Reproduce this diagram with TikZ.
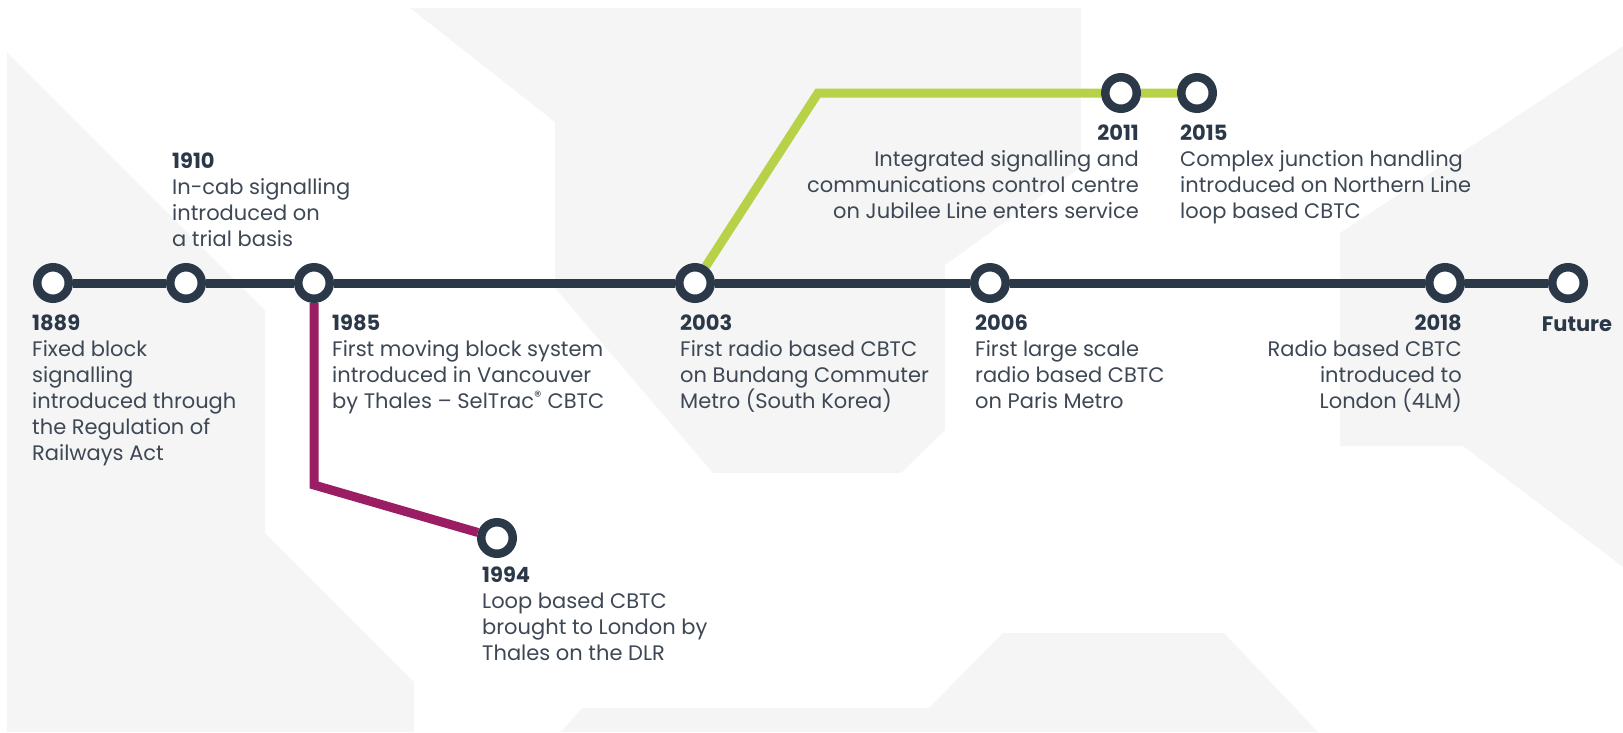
\documentclass[tikz,border=0pt]{standalone}
\usepackage{fontspec}
\setmainfont{Poppins}
\usetikzlibrary{positioning, backgrounds}

\definecolor{navy}{RGB}{43,56,72}
\definecolor{plum}{RGB}{155,30,100}
\definecolor{lime}{RGB}{183,210,72}
\definecolor{paper}{RGB}{245,245,245}
\definecolor{ink}{RGB}{62,72,84}

\tikzset{
    station/.style={circle, draw=navy, line width=8.5pt, fill=white, minimum size=31.5pt, inner sep=0pt},
    track/.style={line width=9pt, draw=navy},
    event/.style={font=\fontsize{21}{26}\selectfont, text=ink, inner sep=0pt, align=left},
}
\newcommand{\yr}[1]{\textcolor{navy}{\bfseries #1}}

\begin{document}
\begin{tikzpicture}[x=1pt, y=-1pt]
    \useasboundingbox (0,0) rectangle (1623,732);

    \node[station] (s1889) at (53,283) {};
    \node[station] (s1910) at (186,283) {};
    \node[station] (s1985) at (314,283) {};
    \node[station] (s1994) at (497,538) {};
    \node[station] (s2003) at (695,283) {};
    \node[station] (s2006) at (990,283) {};
    \node[station] (s2011) at (1121,93) {};
    \node[station] (s2015) at (1197,93) {};
    \node[station] (s2018) at (1445,283) {};
    \node[station] (sFuture) at (1568,283) {};
    \coordinate (bendPlum) at (314,485);
    \coordinate (bendLime) at (818,93);

    \node[event, anchor=north west] (t1889) at (32,315) {\yr{1889}\\Fixed block\\signalling\\introduced through\\the Regulation of\\Railways Act};
    \node[event, anchor=north west] (t1910) at (172,153) {\yr{1910}\\In-cab signalling\\introduced on\\a trial basis};
    \node[event, anchor=north west] (t1985) at (332,315) {\yr{1985}\\First moving block system\\introduced in Vancouver\\by Thales -- SelTrac\textsuperscript{®} CBTC};
    \node[event, anchor=north west] (t1994) at (482,567) {\yr{1994}\\Loop based CBTC\\brought to London by\\Thales on the DLR};
    \node[event, anchor=north west] (t2003) at (680,315) {\yr{2003}\\First radio based CBTC\\on Bundang Commuter\\Metro (South Korea)};
    \node[event, anchor=north west] (t2006) at (975,315) {\yr{2006}\\First large scale\\radio based CBTC\\on Paris Metro};
    \node[event, align=right, anchor=north east] (t2011) at (1139,125) {\yr{2011}\\Integrated signalling and\\communications control centre\\on Jubilee Line enters service};
    \node[event, anchor=north west] (t2015) at (1180,125) {\yr{2015}\\Complex junction handling\\introduced on Northern Line\\loop based CBTC};
    \node[event, align=right, anchor=north east] (t2018) at (1462,315) {\yr{2018}\\Radio based CBTC\\introduced to\\London (4LM)};
    \node[event, below=14pt of sFuture, xshift=9pt] (tFuture) {\yr{Future}};

    \begin{scope}[on background layer]
        % grey backdrop
        \fill[paper] (7,52) -- (265,310) -- (265,533) -- (414,682) -- (414,732) -- (7,732) -- cycle;
        \fill[paper] (410,8) -- (1081,8) -- (1081,167) -- (945,265) -- (945,430) -- (901,473) -- (713,473) -- (555,288) -- (555,122) -- cycle;
        \fill[paper] (1340,233) -- (1623,46) -- (1623,567) -- (1463,446) -- (1340,446) -- cycle;
        \fill[paper] (561,732) -- (582,708) -- (929,708) -- (1003,633) -- (1224,633) -- (1318,732) -- cycle;
        % lines
        \draw[track] (s1889) -- (s1910) -- (s1985) -- (s2003) -- (s2006) -- (s2018) -- (sFuture);
        \draw[track, draw=plum] (s1985) -- (bendPlum) -- (s1994);
        \draw[track, draw=lime] (s2003) -- (bendLime) -- (s2011) -- (s2015);
    \end{scope}
\end{tikzpicture}
\end{document}
